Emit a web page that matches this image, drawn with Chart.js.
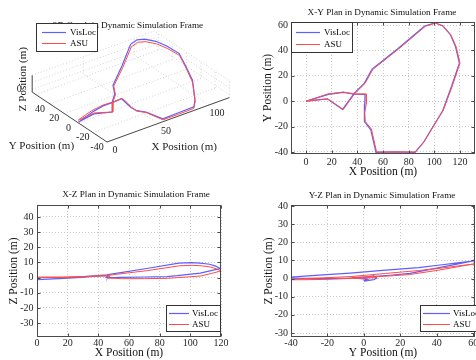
<!DOCTYPE html>
<html><head><meta charset="utf-8">
<script src="https://cdn.jsdelivr.net/npm/chart.js@4.4.1/dist/chart.umd.min.js"></script>
<style>
html,body{margin:0;padding:0;background:#fff;overflow:hidden;width:476px;height:360px;position:relative}
canvas{position:absolute}
</style></head><body>
<canvas id="c3d"></canvas>
<canvas id="cxy"></canvas>
<canvas id="cxz"></canvas>
<canvas id="cyz"></canvas>
<script>
// ---------------- data ----------------
const seriesNames = ['VisLoc', 'ASU'];
const asuX = [0,17,29,38,47,47,45.7,46.2,51,55,70,85,92,98,107,114,120,117,113,107,101,93,72,52,46,38,29,17,0];
const asuY = [0,5.7,7.2,5.8,5.7,-2,-9,-16,-22,-40,-40,-40,-32,-22,-7,12,30,43,52,59,61.5,59,41,25,14,6,-6.6,1.8,0];
const asuZ = [0.3,0.4,0.7,1.0,1.2,0.3,0,-0.3,-0.5,-0.7,-0.7,-0.5,0,0.4,1.1,2.8,4.4,5.8,7,7.8,8.1,7.8,4.6,2.2,1.4,1.0,0.4,0.1,0];
const visX = [0,17.5,29,38,46,45.8,45.2,45.8,50.5,54.5,70,85,91.5,97.5,106.5,113.5,119.5,116.5,112.5,106.5,100.5,92.5,71.5,51.5,45.5,37.5,28.5,16.5,0];
const visY = [0,5.4,7,5.5,5.4,-2,-9,-16,-22.5,-40.3,-40,-40.3,-32.5,-22.5,-7.5,12,30,43,52.5,59.5,61.8,59.3,41.3,25.3,14.3,6.2,-6.4,1.9,0];
const visZ = [-1.4,-0.6,0.2,1.0,1.4,0.5,0.2,0.1,0,0.2,0.4,0.7,1.3,2.0,3.0,4.6,6.0,7.6,8.8,9.6,9.9,9.6,6.0,2.8,1.8,1.2,0.5,-0.5,-1.3];

const xyXTicks = [0,20,40,60,80,100,120];
const xyYTicks = [-40,-20,0,20,40,60];
const xzXTicks = [0,20,40,60,80,100,120];
const xzZTicks = [-30,-20,-10,0,10,20,30,40];
const yzYTicks = [-40,-20,0,20,40,60];
const yzZTicks = [-30,-20,-10,0,10,20,30,40];
const d3XTicks = [0,50,100];
const d3YTickLabels = [-40,-20,0,20,40];
const d3YGrid = [-40,-20,0,20,40,60];
const d3ZGrid = [0,5,10];
const d3ZTickLabels = [0];

const titles = {
  d3: '3D Graph in Dynamic Simulation Frame',
  xy: 'X-Y Plan in Dynamic Simulation Frame',
  xz: 'X-Z Plan in Dynamic Simulation Frame',
  yz: 'Y-Z Plan in Dynamic Simulation Frame'
};

// ---------------- styles ----------------
const FONT = "'Liberation Serif','Times New Roman',serif";
const COLORS = ['rgb(95,95,255)', 'rgb(255,75,75)'];
const WIDTHS = [1.2, 1];
const GRID_C = '#c8c8c8';
const FRAME_C = '#4a4a4a';
const TITLE_FONT = {family: FONT, size: 9.2, weight: 'normal', lineHeight: '12px'};
const LABEL_FONT = {family: FONT, size: 11.5, lineHeight: 1.2};
const TICK_FONT = {family: FONT, size: 10};

const pts = (a, b) => a.map((v, i) => ({x: v, y: b[i]}));

const framePlugin = {
  id: 'matlabFrame',
  afterDraw(chart, args, opts) {
    const ctx = chart.ctx, a = chart.chartArea;
    ctx.save();
    if (opts.box) {
      ctx.strokeStyle = FRAME_C; ctx.lineWidth = 1;
      const l = Math.round(a.left) + 0.5, t = Math.round(a.top) + 0.5;
      const r = Math.round(a.right) - 0.5, b = Math.round(a.bottom) - 0.5;
      ctx.strokeRect(l, t, r - l, b - t);
      ctx.beginPath();
      chart.scales.x.ticks.forEach(tk => {
        const p = Math.round(chart.scales.x.getPixelForValue(tk.value)) + 0.5;
        ctx.moveTo(p, b); ctx.lineTo(p, b - 3);
        ctx.moveTo(p, t); ctx.lineTo(p, t + 3);
      });
      chart.scales.y.ticks.forEach(tk => {
        const p = Math.round(chart.scales.y.getPixelForValue(tk.value)) + 0.5;
        ctx.moveTo(l, p); ctx.lineTo(l + 3, p);
        ctx.moveTo(r, p); ctx.lineTo(r - 3, p);
      });
      ctx.stroke();
    }
    if (opts.texts) {
      ctx.fillStyle = '#1a1a1a';
      opts.texts.forEach(t => {
        ctx.save();
        ctx.font = t.size + 'px ' + FONT;
        ctx.textAlign = 'center'; ctx.textBaseline = 'middle';
        ctx.translate(t.x, t.y);
        if (t.rot) ctx.rotate(t.rot);
        ctx.fillText(t.text, 0, 0);
        ctx.restore();
      });
    }
    const L = opts.legend;
    if (L) {
      ctx.fillStyle = '#fff';
      ctx.fillRect(L.x, L.y, L.w, L.h);
      ctx.strokeStyle = '#333'; ctx.lineWidth = 1;
      ctx.strokeRect(L.x + 0.5, L.y + 0.5, L.w - 1, L.h - 1);
      ctx.font = L.size + 'px ' + FONT;
      ctx.textAlign = 'left'; ctx.textBaseline = 'middle';
      L.rows.forEach((ry, i) => {
        ctx.strokeStyle = COLORS[i]; ctx.lineWidth = WIDTHS[i];
        ctx.beginPath(); ctx.moveTo(L.l1, ry + 0.5); ctx.lineTo(L.l2, ry + 0.5); ctx.stroke();
        ctx.fillStyle = '#000';
        ctx.fillText(seriesNames[i], L.tx, ry + 0.5);
      });
    }
    ctx.restore();
  }
};

function setupCanvas(id, L, T, W) {
  const cv = document.getElementById(id);
  cv.width = W; cv.height = 180;
  cv.style.left = L + 'px'; cv.style.top = T + 'px';
  return cv;
}

function make2D(c) {
  const cv = setupCanvas(c.id, c.L, c.T, c.W);
  return new Chart(cv, {
    type: 'scatter',
    data: {datasets: [
      {label: seriesNames[0], data: pts(c.vx, c.vy), borderColor: COLORS[0], borderWidth: WIDTHS[0], showLine: true, pointRadius: 0, tension: 0, order: 1},
      {label: seriesNames[1], data: pts(c.ax, c.ay), borderColor: COLORS[1], borderWidth: WIDTHS[1], showLine: true, pointRadius: 0, tension: 0, order: 0}
    ]},
    options: {
      responsive: false, animation: false, devicePixelRatio: 1, events: [],
      layout: {padding: 0},
      plugins: {
        legend: {display: false}, tooltip: {enabled: false},
        title: {display: true, text: c.title, color: '#111', font: TITLE_FONT, padding: {top: c.tpt, bottom: c.tpb}},
        matlabFrame: {box: true, legend: c.legend}
      },
      scales: {
        x: {type: 'linear', position: 'bottom', min: c.xmin, max: c.xmax, bounds: 'data',
            afterBuildTicks: s => { s.ticks = c.xt.map(v => ({value: v})); },
            afterFit: s => { s.height = c.xh; },
            grid: {color: GRID_C, lineWidth: 1, drawTicks: false}, border: {display: false, dash: [1, 2]},
            ticks: {font: TICK_FONT, color: '#262626', padding: c.xtp, maxRotation: 0, autoSkip: false},
            title: {display: true, text: c.xlabel, color: '#111', font: LABEL_FONT, padding: {top: 0, bottom: c.xlp}}},
        y: {type: 'linear', position: 'left', min: c.ymin, max: c.ymax, bounds: 'data',
            afterBuildTicks: s => { s.ticks = c.yt.map(v => ({value: v})); },
            afterFit: s => { s.width = c.yw; },
            grid: {color: GRID_C, lineWidth: 1, drawTicks: false}, border: {display: false, dash: [1, 2]},
            ticks: {font: TICK_FONT, color: '#262626', padding: c.ytp, autoSkip: false},
            title: {display: true, text: c.ylabel, color: '#111', font: LABEL_FONT, padding: {top: c.ylp, bottom: 0}}},
        yr: {type: 'linear', position: 'right', display: true, grid: {display: false}, ticks: {display: false}, border: {display: false},
             afterFit: s => { s.width = c.rw; }}
      }
    },
    plugins: [framePlugin]
  });
}

// X-Y
make2D({id: 'cxy', L: 238, T: 0, W: 288, title: titles.xy, tpt: 7, tpb: 3,
  vx: visX, vy: visY, ax: asuX, ay: asuY,
  xmin: -11.7, xmax: 131.7, ymin: -41.6, ymax: 62.4, xt: xyXTicks, yt: xyYTicks,
  xh: 26, yw: 53, rw: 51, xtp: 2, ytp: 3, xlp: 1.2, ylp: 23.1,
  xlabel: 'X Position (m)', ylabel: 'Y Position (m)',
  legend: {x: 53, y: 22, w: 62, h: 31, rows: [32, 44], l1: 58, l2: 82, tx: 86, size: 9}});

// X-Z
make2D({id: 'cxz', L: 0, T: 180, W: 272, title: titles.xz, tpt: 9, tpb: 4,
  vx: visX, vy: visZ, ax: asuX, ay: asuZ,
  xmin: 0, xmax: 120, ymin: -39.2, ymax: 47.9, xt: xzXTicks, yt: xzZTicks,
  xh: 23, yw: 37, rw: 51, xtp: 0, ytp: 3.5, xlp: 0, ylp: 7.1,
  xlabel: 'X Position (m)', ylabel: 'Z Position (m)',
  legend: {x: 166, y: 125, w: 55, h: 27, rows: [133, 144], l1: 169, l2: 189, tx: 192, size: 9}});

// Y-Z
make2D({id: 'cyz', L: 238, T: 180, W: 288, title: titles.yz, tpt: 10, tpb: 3,
  vx: visY, vy: visZ, ax: asuY, ay: asuZ,
  xmin: -40, xmax: 61, ymin: -32.2, ymax: 40.5, xt: yzYTicks, yt: yzZTicks,
  xh: 23, yw: 53, rw: 51, xtp: 0, ytp: 3, xlp: 0, ylp: 23.7,
  xlabel: 'Y Position (m)', ylabel: 'Z Position (m)',
  legend: {x: 182, y: 125, w: 60, h: 27, rows: [133, 144], l1: 185, l2: 212, tx: 215, size: 9}});

// ---------------- 3D view ----------------
const V = {ox: 107, oy: 142, exx: 1.02, exy: -0.37, eyx: -0.7125, eyy: -0.475, ez: 1.4,
           x0: 0, x1: 120, y0: -40, y1: 65, z0: -2, z1: 10};
function proj(x, y, z) {
  return {x: V.ox + (x - V.x0) * V.exx + (y - V.y0) * V.eyx,
          y: V.oy + (x - V.x0) * V.exy + (y - V.y0) * V.eyy - (z - V.z0) * V.ez};
}
function seg(a, b) { return [proj(a[0], a[1], a[2]), proj(b[0], b[1], b[2])]; }
const gridSegs = [];
d3XTicks.forEach(X => gridSegs.push(seg([X, V.y0, V.z0], [X, V.y1, V.z0])));
d3YGrid.forEach(Y => gridSegs.push(seg([V.x0, Y, V.z0], [V.x1, Y, V.z0])));
d3XTicks.forEach(X => gridSegs.push(seg([X, V.y1, V.z0], [X, V.y1, V.z1])));
d3YGrid.forEach(Y => gridSegs.push(seg([V.x1, Y, V.z0], [V.x1, Y, V.z1])));
d3ZGrid.forEach(Z => { gridSegs.push(seg([V.x0, V.y1, Z], [V.x1, V.y1, Z])); gridSegs.push(seg([V.x1, V.y0, Z], [V.x1, V.y1, Z])); });
const axisSegs = [
  seg([V.x0, V.y0, V.z0], [V.x1, V.y0, V.z0]),
  seg([V.x0, V.y0, V.z0], [V.x0, V.y1, V.z0]),
  seg([V.x0, V.y1, V.z0], [V.x0, V.y1, V.z1])
];
const ds3 = [];
gridSegs.forEach(s => ds3.push({data: s, showLine: true, pointRadius: 0, borderColor: '#d2d2d2', borderWidth: 1, borderDash: [1, 2], order: 3, clip: false}));
axisSegs.forEach(s => ds3.push({data: s, showLine: true, pointRadius: 0, borderColor: FRAME_C, borderWidth: 1, order: 2, clip: false}));
ds3.push({label: seriesNames[0], data: visX.map((v, i) => proj(v, visY[i], visZ[i])), showLine: true, pointRadius: 0, borderColor: COLORS[0], borderWidth: WIDTHS[0], order: 1, clip: false});
ds3.push({label: seriesNames[1], data: asuX.map((v, i) => proj(v, asuY[i], asuZ[i])), showLine: true, pointRadius: 0, borderColor: COLORS[1], borderWidth: WIDTHS[1], order: 0, clip: false});

const texts3 = [];
d3XTicks.forEach(X => { const p = proj(X, V.y0, V.z0); texts3.push({text: String(X), x: p.x + 8, y: p.y + 8, size: 10}); });
d3YTickLabels.forEach(Y => { const p = proj(V.x0, Y, V.z0); texts3.push({text: String(Y), x: p.x - 10, y: p.y + 5, size: 10}); });
d3ZTickLabels.forEach(Z => { const p = proj(V.x0, V.y1, Z); texts3.push({text: String(Z), x: p.x - 13, y: p.y, size: 10}); });
(() => {
  const px = proj((V.x0 + V.x1) / 2, V.y0, V.z0);
  texts3.push({text: 'X Position (m)', x: px.x + 16, y: px.y + 27, size: 11});
  const py = proj(V.x0, 10, V.z0);
  texts3.push({text: 'Y Position (m)', x: py.x - 30, y: py.y + 28, size: 11});
  const pz = proj(V.x0, V.y1, V.z0);
  texts3.push({text: 'Z Position (m)', x: pz.x - 9, y: pz.y - 13, size: 11, rot: -Math.PI / 2});
})();

const cv3 = setupCanvas('c3d', 0, 0, 256);
new Chart(cv3, {
  type: 'scatter',
  data: {datasets: ds3},
  options: {
    responsive: false, animation: false, devicePixelRatio: 1, events: [],
    layout: {padding: 0},
    plugins: {
      legend: {display: false}, tooltip: {enabled: false},
      title: {display: true, text: titles.d3, color: '#111', font: TITLE_FONT, padding: {top: 20, bottom: 0}},
      matlabFrame: {box: false, texts: texts3,
        legend: {x: 36, y: 23, w: 62, h: 29, rows: [32, 43], l1: 42, l2: 66, tx: 70, size: 9}}
    },
    scales: {
      x: {type: 'linear', display: false, min: 0, max: 256},
      y: {type: 'linear', display: false, min: 32, max: 180, reverse: true}
    }
  },
  plugins: [framePlugin]
});
</script>
</body></html>
